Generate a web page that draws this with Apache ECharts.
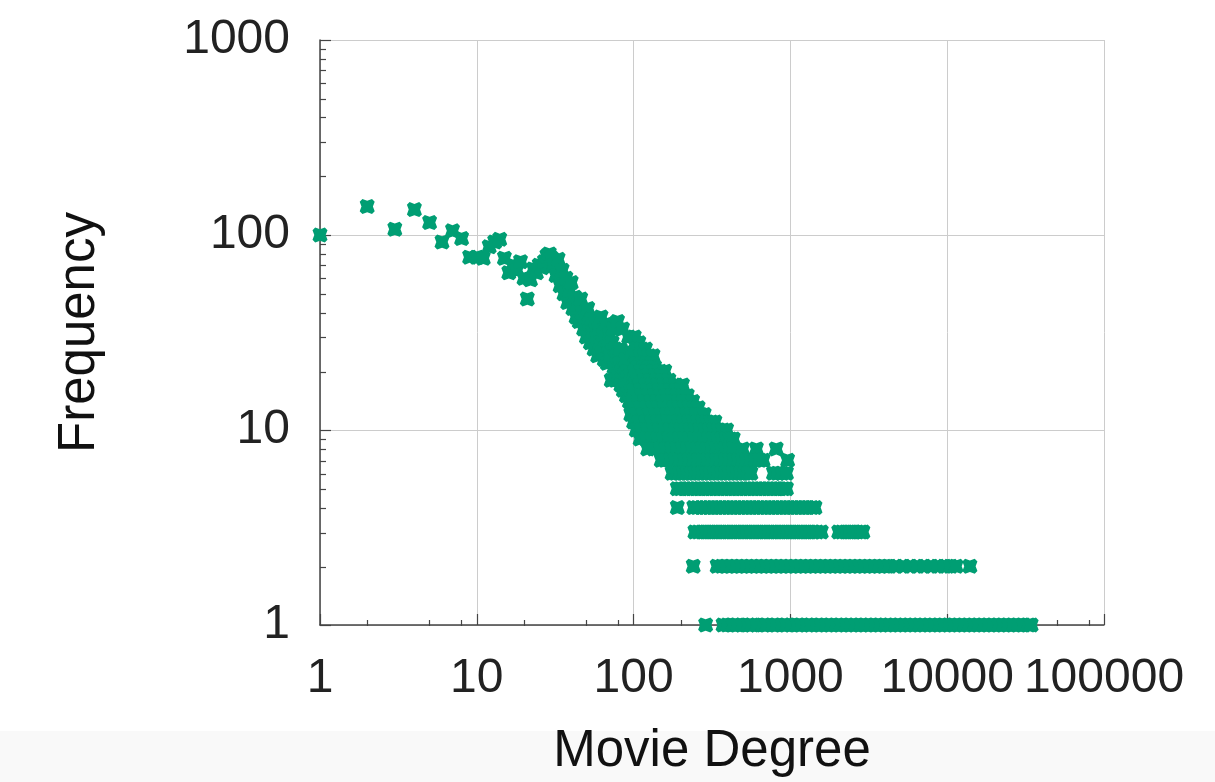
<!DOCTYPE html>
<html><head><meta charset="utf-8">
<script src="https://cdn.jsdelivr.net/npm/echarts@6/dist/echarts.min.js"></script>
<style>html,body{margin:0;padding:0;background:#fff}#c{width:1215px;height:782px}</style>
</head><body><div id="c"></div><script>
// ---- data: [degree, frequency] for low degrees ----
const headPoints = [
 [1,100],[2,140],[3,107],[4,135],[5,116],[6,92],[7,105],[8,96],[9,77],[10,77],
 [11,76],[12,87],[13,92],[14,95],[15,76],[16,64],[17,70],[18,66],[19,73],[20,60],
 [21,47],[22,59],[23,67],[24,64],[25,70],[26,68],[27,73],[28,78],[29,80],[30,76],
 [31,70],[32,62],[33,75],[34,55],[35,66],[36,50],[37,60],[38,45],[39,52],[40,57],
 [41,42],[42,48],[43,38],[44,44],[45,36],[46,47],[47,40],[48,33],[49,38],[50,30],
 [51,42],[52,35],[53,28],[54,37],[55,32],[56,26],[57,36],[58,30],[59,24],[60,33],
 [61,28],[62,38],[63,25],[64,31],[65,23],[66,29],[67,35],[68,22],[69,27],[70,31],
 [71,24],[72,18],[73,28],[74,33],[75,21],[76,26],[77,18],[78,24],[79,36],[80,19],
 [81,22],[82,26],[83,17],[84,20],[85,33],[86,16],[87,21],[88,18],[89,23],[90,15],
 [91,20],[92,17],[93,30],[94,14],[95,19],[96,16],[97,25],[98,13],[99,18],[100,15]
];
// ---- degrees observed at a given frequency (higher degrees) ----
const deg_f30 = [101];
const deg_f28 = [103,108];
const deg_f26 = [105,112,119];
const deg_f24 = [102,110,117,125,133];
const deg_f22 = [104,113,122,131];
const deg_f21 = [107,116,126,136];
const deg_f20 = [101,111,121,134,147,158];
const deg_f19 = [103,114,124,137,150];
const deg_f18 = [106,117,128,140,153,168];
const deg_f17 = [109,119,131,143,156,171,186,205];
const deg_f16 = [100,111,122,134,146,158,172,187,201];
const deg_f15 = [102,113,124,136,148,161,175,190,206,220];
const deg_f14 = [99,107,118,129,141,153,165,178,192,207,223,238];
const deg_f13 = [101,110,121,132,144,156,168,181,195,210,226,242,258];
const deg_f12 = [96,104,115,126,138,150,162,175,188,202,217,233,250,266,282];
const deg_f11 = [100,108,119,130,142,154,166,179,193,208,224,240,257,275,294,312,330];
const deg_f10 = [104,112,123,134,146,158,171,185,199,214,230,247,265,284,304,325,347,370,392];
const deg_f9 = [110,120,131,143,155,168,182,196,211,227,244,262,281,301,322,344,367,390,412,432];
const deg_f8 = [123,135,148,161,175,189,204,220,237,255,274,294,315,337,360,384,409,434,495,607,812];
const deg_f7 = [150,160,172,184,197,211,226,242,259,277,296,316,338,361,385,410,437,465,495,527,561,597,635,670,960];
const deg_f6 = [176,186,197,208,220,233,246,260,275,291,308,326,344,364,385,407,431,455,482,509,538,560,780,830,885,944];
const deg_f5 = [190,200,212,224,237,251,265,280,296,313,331,350,370,391,414,437,462,489,517,546,578,611,646,683,722,763,807,853,900,944];
const deg_f4 = [190,242,256,271,287,304,321,339,359,379,401,424,448,474,501,530,560,592,626,662,700,740,782,827,874,924,977,1033,1092,1154,1220,1290,1364,1435];
const deg_f3 = [246,260,275,290,306,323,341,360,380,401,424,447,472,499,526,556,587,619,654,690,729,769,812,858,905,956,1009,1065,1125,1187,1254,1323,1397,1475,1574,2033,2140,2260,2390,2520,2660,2800,2900];
const deg_f2 = [240,341,366,394,423,455,489,526,565,607,653,702,754,811,872,937,1007,1083,1164,1251,1345,1446,1554,1671,1796,1931,2076,2231,2399,2578,2772,2980,3203,3443,3702,3979,4278,4700,5250,5800,6450,7100,7900,8700,9600,10500,11380,13960];
const deg_f1 = [288,372,398,431,460,495,538,570,612,668,710,770,820,890,948,1020,1105,1180,1275,1360,1470,1575,1700,1820,1965,2105,2270,2440,2615,2820,3030,3250,3510,3760,4050,4340,4680,5020,5400,5810,6240,6720,7210,7760,8330,8970,9630,10350,11140,11960,12870,13830,14870,15980,17180,18480,19850,21350,22950,24670,26520,28500,30650,32950,34300];

const xTickValues = [1,10,100,1000,10000,100000];
const yTickValues = [1,10,100,1000];
const xMinorTicks = [2,5,8,20,50,80,200,500,800,2000,5000,8000,20000,50000,80000];
const yMinorTicks = [2,3,4,5,6,7,8,9,20,30,40,50,60,70,80,90,200,300,400,500,600,700,800,900];

const rows = [
 [30,deg_f30],[28,deg_f28],[26,deg_f26],[24,deg_f24],[22,deg_f22],[21,deg_f21],[20,deg_f20],
 [19,deg_f19],[18,deg_f18],[17,deg_f17],[16,deg_f16],[15,deg_f15],[14,deg_f14],[13,deg_f13],
 [12,deg_f12],[11,deg_f11],[10,deg_f10],[9,deg_f9],[8,deg_f8],[7,deg_f7],[6,deg_f6],
 [5,deg_f5],[4,deg_f4],[3,deg_f3],[2,deg_f2],[1,deg_f1]
];
const points = headPoints.slice();
rows.forEach(([f, ds]) => ds.forEach(d => points.push([d, f])));

const FONT = '"Liberation Sans", Arial, Helvetica, sans-serif';
const GREEN = '#009e73';
const fmt = v => String(Math.round(v));

const chart = echarts.init(document.getElementById('c'), null, {renderer: 'canvas'});
chart.setOption({
  animation: false,
  backgroundColor: '#ffffff',
  graphic: [{type: 'rect', left: 0, top: 731, z: -100, silent: true,
    shape: {width: 1215, height: 51}, style: {fill: '#f9f9f9'}}],
  grid: [
    {left: 320, right: 111, top: 40, bottom: 156, containLabel: false},
    {left: 320, right: 111, top: 40, bottom: 156, containLabel: false}
  ],
  xAxis: [
    {type: 'log', logBase: 10, min: 1, max: 100000, gridIndex: 0,
     name: 'Movie Degree', nameLocation: 'middle', nameGap: 101,
     nameTextStyle: {fontSize: 51, color: '#111', fontFamily: FONT},
     axisLine: {show: true, lineStyle: {color: '#444', width: 1.5}},
     axisTick: {show: true, inside: true, length: 11, lineStyle: {color: '#444', width: 1.2}},
     axisLabel: {show: true, fontSize: 48, color: '#222', fontFamily: FONT, margin: 30,
       showMinLabel: true, showMaxLabel: true, formatter: fmt, hideOverlap: false},
     splitLine: {show: true, showMinLine: true, showMaxLine: true, lineStyle: {color: '#cccccc', width: 1}},
     minorTick: {show: false}, minorSplitLine: {show: false}},
    {type: 'log', logBase: 10, min: 1, max: 100000, gridIndex: 1,
     axisLine: {show: false}, axisLabel: {show: false}, splitLine: {show: false},
     axisTick: {show: true, inside: true, length: 6, customValues: xMinorTicks,
       lineStyle: {color: '#444', width: 1.2}}}
  ],
  yAxis: [
    {type: 'log', logBase: 10, min: 1, max: 1000, gridIndex: 0,
     name: 'Frequency', nameLocation: 'middle', nameGap: 215,
     nameTextStyle: {fontSize: 51, color: '#111', fontFamily: FONT},
     axisLine: {show: true, lineStyle: {color: '#444', width: 1.5}},
     axisTick: {show: true, inside: true, length: 11, lineStyle: {color: '#444', width: 1.2}},
     axisLabel: {show: true, fontSize: 48, color: '#222', fontFamily: FONT, margin: 30,
       showMinLabel: true, showMaxLabel: true, formatter: fmt},
     splitLine: {show: true, showMinLine: true, showMaxLine: true, lineStyle: {color: '#cccccc', width: 1}}},
    {type: 'log', logBase: 10, min: 1, max: 1000, gridIndex: 1,
     axisLine: {show: false}, axisLabel: {show: false}, splitLine: {show: false},
     axisTick: {show: true, inside: true, length: 6, customValues: yMinorTicks,
       lineStyle: {color: '#444', width: 1.2}}}
  ],
  series: [{
    type: 'scatter', xAxisIndex: 0, yAxisIndex: 0, clip: false,
    symbol: 'path://M18,0 L50,12 L82,0 L100,18 L88,50 L100,82 L82,100 L50,88 L18,100 L0,82 L12,50 L0,18 Z',
    symbolSize: 15,
    itemStyle: {color: GREEN, opacity: 1},
    data: points
  }]
});
</script></body></html>
